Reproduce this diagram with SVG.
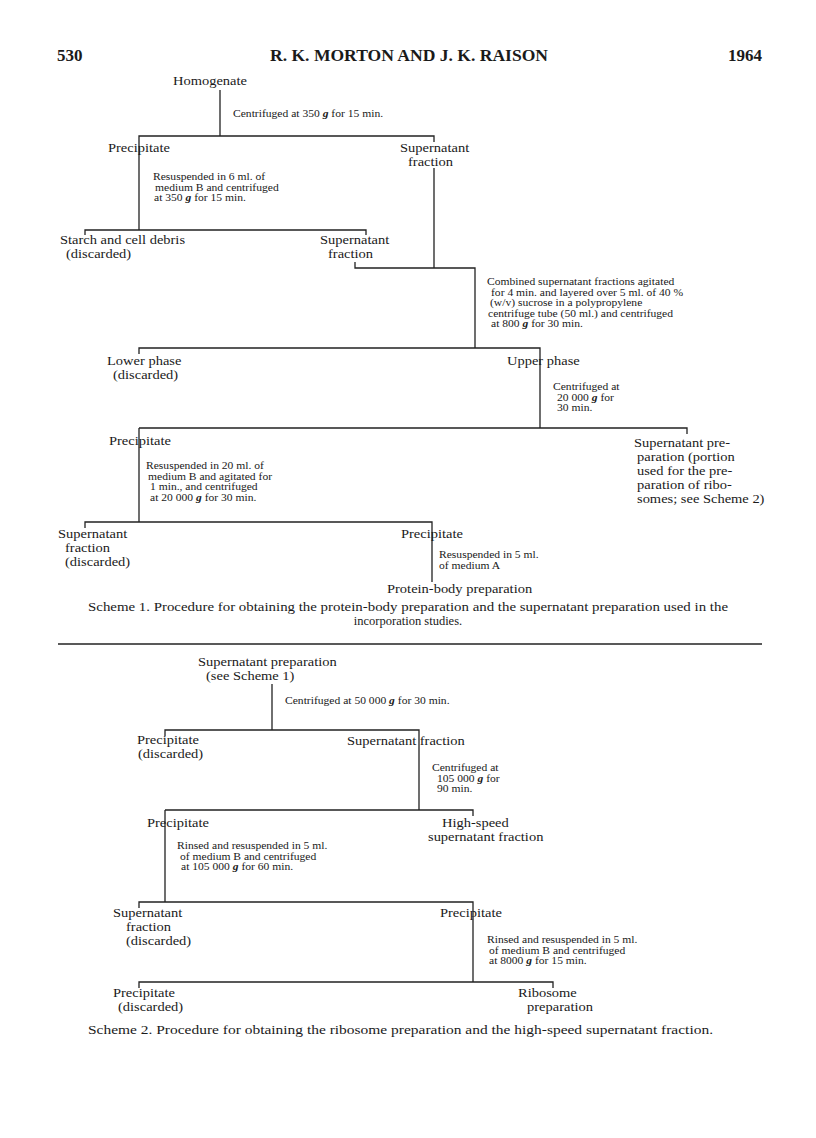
<svg xmlns="http://www.w3.org/2000/svg" width="816" height="1138" viewBox="0 0 816 1138">
<style>
.bg{fill:#ffffff}
.t{font-family:"Liberation Serif","Times New Roman",serif;font-size:12.5px;fill:#1a1a1a}
.s{font-family:"Liberation Serif","Times New Roman",serif;font-size:9.5px;fill:#1a1a1a}
.h{font-family:"Liberation Serif","Times New Roman",serif;font-size:17px;font-weight:bold;fill:#1a1a1a}
.c{font-family:"Liberation Serif","Times New Roman",serif;font-size:12.5px;fill:#1a1a1a}
.g{font-weight:bold;font-style:italic}
.ln{stroke:#222;stroke-width:1.3;fill:none}
</style>
<rect class="bg" x="0" y="0" width="816" height="1138"/>
<g id="header">
<text class="h" x="57" y="61">530</text>
<text class="h" x="270" y="61" textLength="278" lengthAdjust="spacingAndGlyphs">R. K. MORTON  AND  J. K. RAISON</text>
<text class="h" x="728" y="61">1964</text>
</g>
<g id="connectors">
<path class="ln" d="M220,90 V136 M139,142 V136 H434 V142 M139,136 V230"/>
<path class="ln" d="M85,235 V230 H366 V235"/>
<path class="ln" d="M434,168 V268 M355,262 V268 H475 V348"/>
<path class="ln" d="M139,354 V348 H540 V428"/>
<path class="ln" d="M139,428 H687 V434 M139,428 V522"/>
<path class="ln" d="M85,528 V522 H432 V582"/>
<path class="ln" d="M58,644 H762"/>
<path class="ln" d="M272,684 V730"/>
<path class="ln" d="M165,736 V730 H419 V810"/>
<path class="ln" d="M165,810 H473 V816 M165,810 V902"/>
<path class="ln" d="M139,908 V902 H473 V982"/>
<path class="ln" d="M139,988 V982 H553 V988"/>
</g>
<g id="homogenate"><text class="t" transform="translate(173,85) scale(1.16,1)">Homogenate</text></g>
<g id="step1"><text class="s" transform="translate(233,117) scale(1.22,1)">Centrifuged at 350 <tspan class="g">g</tspan> for 15 min.</text></g>
<g id="precipitate1"><text class="t" transform="translate(108,152) scale(1.16,1)">Precipitate</text></g>
<g id="supernatant1"><text class="t" transform="translate(400,152) scale(1.16,1)">Supernatant</text><text class="t" transform="translate(408,166) scale(1.16,1)">fraction</text></g>
<g id="step2">
<text class="s" transform="translate(153,180) scale(1.22,1)">Resuspended in 6 ml. of</text>
<text class="s" transform="translate(155,190.5) scale(1.22,1)">medium B and centrifuged</text>
<text class="s" transform="translate(154,201) scale(1.22,1)">at 350 <tspan class="g">g</tspan> for 15 min.</text>
</g>
<g id="starch"><text class="t" transform="translate(60,244) scale(1.16,1)">Starch and cell debris</text><text class="t" transform="translate(66,258) scale(1.16,1)">(discarded)</text></g>
<g id="supernatant2"><text class="t" transform="translate(320,244) scale(1.16,1)">Supernatant</text><text class="t" transform="translate(328,258) scale(1.16,1)">fraction</text></g>
<g id="step3">
<text class="s" transform="translate(487,285) scale(1.22,1)">Combined supernatant fractions agitated</text>
<text class="s" transform="translate(491,295.5) scale(1.22,1)">for 4 min. and layered over 5 ml. of 40 %</text>
<text class="s" transform="translate(490,306) scale(1.22,1)">(w/v)  sucrose in a polypropylene</text>
<text class="s" transform="translate(488,316.5) scale(1.22,1)">centrifuge tube (50 ml.) and centrifuged</text>
<text class="s" transform="translate(491,327) scale(1.22,1)">at 800 <tspan class="g">g</tspan> for 30 min.</text>
</g>
<g id="lowerphase"><text class="t" transform="translate(107,365) scale(1.16,1)">Lower phase</text><text class="t" transform="translate(113,379) scale(1.16,1)">(discarded)</text></g>
<g id="upperphase"><text class="t" transform="translate(507,365) scale(1.16,1)">Upper phase</text></g>
<g id="step4">
<text class="s" transform="translate(553,390) scale(1.22,1)">Centrifuged at</text>
<text class="s" transform="translate(557,400.5) scale(1.22,1)">20 000 <tspan class="g">g</tspan> for</text>
<text class="s" transform="translate(557,411) scale(1.22,1)">30 min.</text>
</g>
<g id="precipitate2"><text class="t" transform="translate(109,445) scale(1.16,1)">Precipitate</text></g>
<g id="supernatantprep">
<text class="t" transform="translate(634,447) scale(1.16,1)">Supernatant pre-</text>
<text class="t" transform="translate(637,461) scale(1.16,1)">paration (portion</text>
<text class="t" transform="translate(637,475) scale(1.16,1)">used for the pre-</text>
<text class="t" transform="translate(637,489) scale(1.16,1)">paration of ribo-</text>
<text class="t" transform="translate(637,503) scale(1.16,1)">somes; see Scheme 2)</text>
</g>
<g id="step5">
<text class="s" transform="translate(146,469) scale(1.22,1)">Resuspended in 20 ml. of</text>
<text class="s" transform="translate(148,479.5) scale(1.22,1)">medium B and agitated for</text>
<text class="s" transform="translate(150,490) scale(1.22,1)">1 min., and centrifuged</text>
<text class="s" transform="translate(150,500.5) scale(1.22,1)">at 20 000 <tspan class="g">g</tspan> for 30 min.</text>
</g>
<g id="supernatant3"><text class="t" transform="translate(58,538) scale(1.16,1)">Supernatant</text><text class="t" transform="translate(65,552) scale(1.16,1)">fraction</text><text class="t" transform="translate(65,566) scale(1.16,1)">(discarded)</text></g>
<g id="precipitate3"><text class="t" transform="translate(401,538) scale(1.16,1)">Precipitate</text></g>
<g id="step6"><text class="s" transform="translate(439,558) scale(1.22,1)">Resuspended in 5 ml.</text><text class="s" transform="translate(439,568.5) scale(1.22,1)">of medium A</text></g>
<g id="proteinbody"><text class="t" transform="translate(387,593) scale(1.16,1)">Protein-body preparation</text></g>
<g id="caption1"><text class="c" x="88" y="611" textLength="640" lengthAdjust="spacingAndGlyphs">Scheme 1.  Procedure for obtaining the protein-body preparation and the supernatant preparation used in the</text><text class="c" x="408" y="625" text-anchor="middle">incorporation studies.</text></g>
<g id="s2-supernatantprep"><text class="t" transform="translate(198,666) scale(1.16,1)">Supernatant preparation</text><text class="t" transform="translate(206,680) scale(1.16,1)">(see Scheme 1)</text></g>
<g id="s2-step1"><text class="s" transform="translate(285,704) scale(1.22,1)">Centrifuged at 50 000 <tspan class="g">g</tspan> for 30 min.</text></g>
<g id="s2-precipitate1"><text class="t" transform="translate(137,744) scale(1.16,1)">Precipitate</text><text class="t" transform="translate(138,758) scale(1.16,1)">(discarded)</text></g>
<g id="s2-supernatant1"><text class="t" transform="translate(347,745) scale(1.16,1)">Supernatant fraction</text></g>
<g id="s2-step2">
<text class="s" transform="translate(432,771) scale(1.22,1)">Centrifuged at</text>
<text class="s" transform="translate(437,781.5) scale(1.22,1)">105 000 <tspan class="g">g</tspan> for</text>
<text class="s" transform="translate(437,792) scale(1.22,1)">90 min.</text>
</g>
<g id="s2-precipitate2"><text class="t" transform="translate(147,827) scale(1.16,1)">Precipitate</text></g>
<g id="s2-highspeed"><text class="t" transform="translate(442,827) scale(1.16,1)">High-speed</text><text class="t" transform="translate(428,841) scale(1.16,1)">supernatant fraction</text></g>
<g id="s2-step3">
<text class="s" transform="translate(177,849) scale(1.22,1)">Rinsed and resuspended in 5 ml.</text>
<text class="s" transform="translate(180,859.5) scale(1.22,1)">of medium B and centrifuged</text>
<text class="s" transform="translate(181,870) scale(1.22,1)">at 105 000 <tspan class="g">g</tspan> for 60 min.</text>
</g>
<g id="s2-supernatant2"><text class="t" transform="translate(113,917) scale(1.16,1)">Supernatant</text><text class="t" transform="translate(126,931) scale(1.16,1)">fraction</text><text class="t" transform="translate(126,945) scale(1.16,1)">(discarded)</text></g>
<g id="s2-precipitate3"><text class="t" transform="translate(440,917) scale(1.16,1)">Precipitate</text></g>
<g id="s2-step4">
<text class="s" transform="translate(487,943) scale(1.22,1)">Rinsed and resuspended in 5 ml.</text>
<text class="s" transform="translate(489,953.5) scale(1.22,1)">of medium B and centrifuged</text>
<text class="s" transform="translate(489,964) scale(1.22,1)">at 8000 <tspan class="g">g</tspan> for 15 min.</text>
</g>
<g id="s2-precipitate4"><text class="t" transform="translate(113,997) scale(1.16,1)">Precipitate</text><text class="t" transform="translate(118,1011) scale(1.16,1)">(discarded)</text></g>
<g id="s2-ribosome"><text class="t" transform="translate(518,997) scale(1.16,1)">Ribosome</text><text class="t" transform="translate(527,1011) scale(1.16,1)">preparation</text></g>
<g id="caption2"><text class="c" x="88" y="1034" textLength="625" lengthAdjust="spacingAndGlyphs">Scheme 2.  Procedure for obtaining the ribosome preparation and the high-speed supernatant fraction.</text></g>
</svg>
